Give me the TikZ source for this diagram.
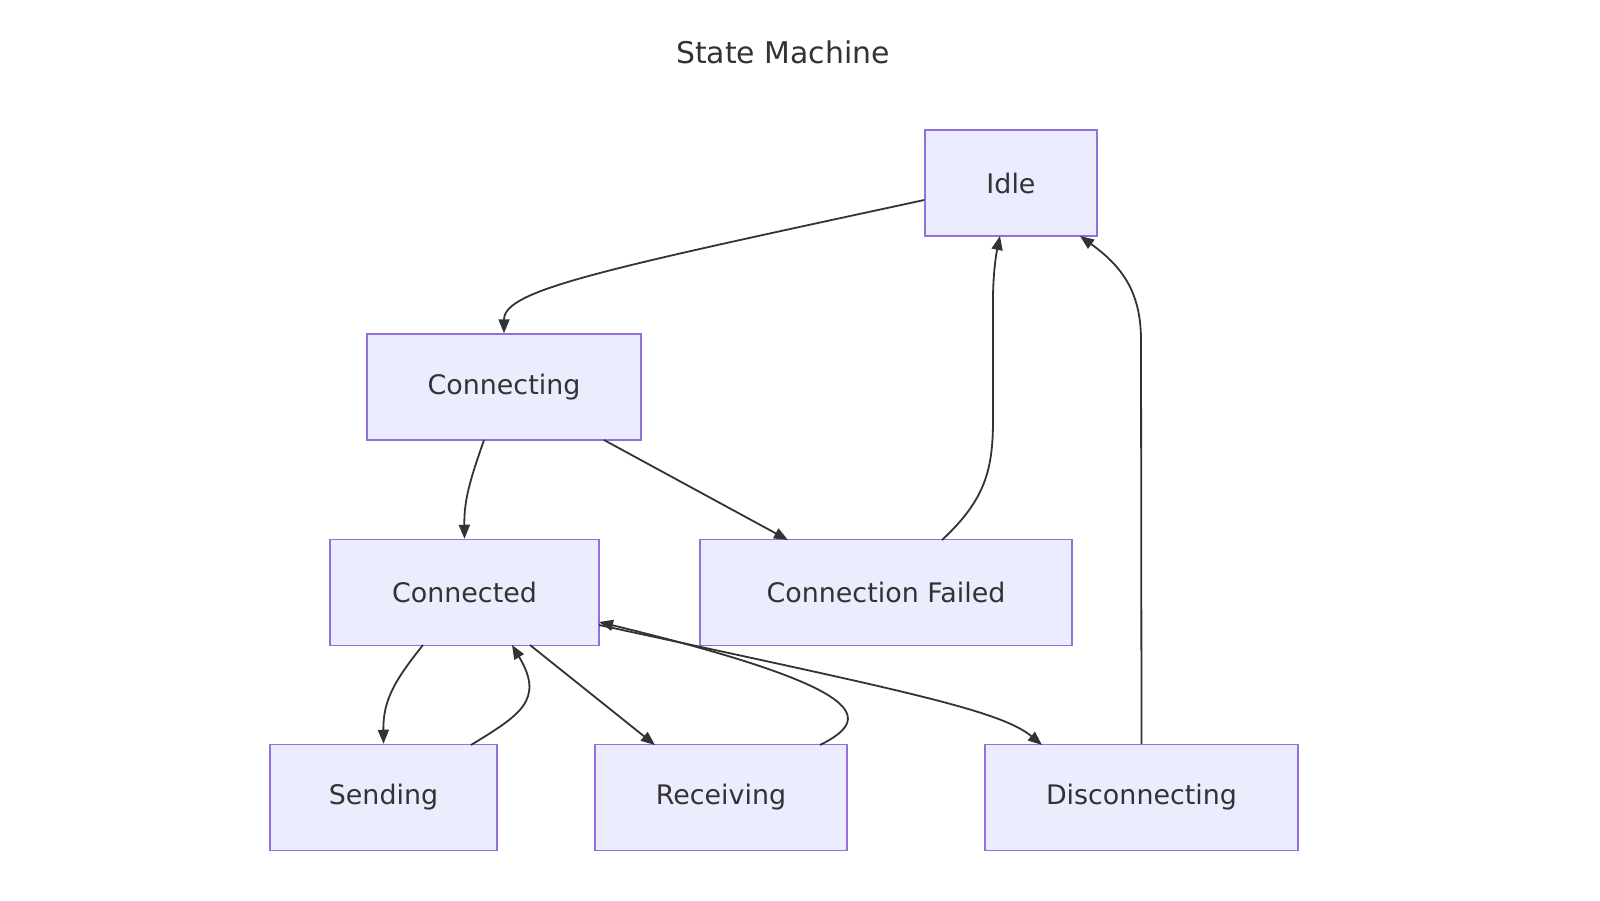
\documentclass[tikz,border=0pt]{standalone}
\usepackage{fontspec}
\setmainfont{DejaVu Sans}
\usetikzlibrary{arrows.meta}
\definecolor{nfill}{HTML}{ECECFF}
\definecolor{nline}{HTML}{9370DB}
\definecolor{eline}{HTML}{333333}
\begin{document}
\begin{tikzpicture}[x=1bp,y=-1bp,
  st/.style={draw=nline,fill=nfill,line width=1.5bp,minimum height=106bp,inner sep=0pt,text=eline,font=\fontsize{27}{31}\selectfont},
  e/.style={draw=eline,line width=1.8bp,-{Triangle[length=14bp,width=11bp]}}]
\useasboundingbox (0,0) rectangle (1600,900);
\fill[white] (0,0) rectangle (1600,900);
\node[text=eline,font=\fontsize{30}{34}\selectfont] (title) at (783,52) {State Machine};
\node[st,minimum width=172bp] (idle) at (1011,183) {Idle};
\node[st,minimum width=274bp] (cing) at (504,387) {Connecting};
\node[st,minimum width=269bp] (ced) at (464.5,592.5) {Connected};
\node[st,minimum width=372bp] (fail) at (886,592.5) {Connection Failed};
\node[st,minimum width=227bp] (send) at (383.5,797.5) {Sending};
\node[st,minimum width=252bp] (recv) at (721,797.5) {Receiving};
\node[st,minimum width=313bp] (disc) at (1141.5,797.5) {Disconnecting};
\draw[e] (idle.west|-0,200) .. controls (600,270) and (504,290) .. (cing.north);
\draw[e] (484,440) .. controls (470,480) and (464,500) .. (ced.north);
\draw[e] (604,440) -- (788,540);
\draw[e] (942,540) .. controls (985,500) and (993,470) .. (993,420) -- (993,300) .. controls (993,270) and (997,250) .. (1000,236);
\draw[e] (disc.north) -- (1141,340) .. controls (1141,290) and (1120,265) .. (1080,236);
\draw[e] (423,645) .. controls (395,680) and (383,700) .. (send.north);
\draw[e] (471,745) .. controls (520,715) and (545,700) .. (512,645);
\draw[e] (530,645) -- (655,745);
\draw[e] (820,745) .. controls (870,720) and (880,690) .. (599,622);
\draw[e] (599,625) .. controls (900,690) and (1000,710) .. (1042,745);
\end{tikzpicture}
\end{document}
